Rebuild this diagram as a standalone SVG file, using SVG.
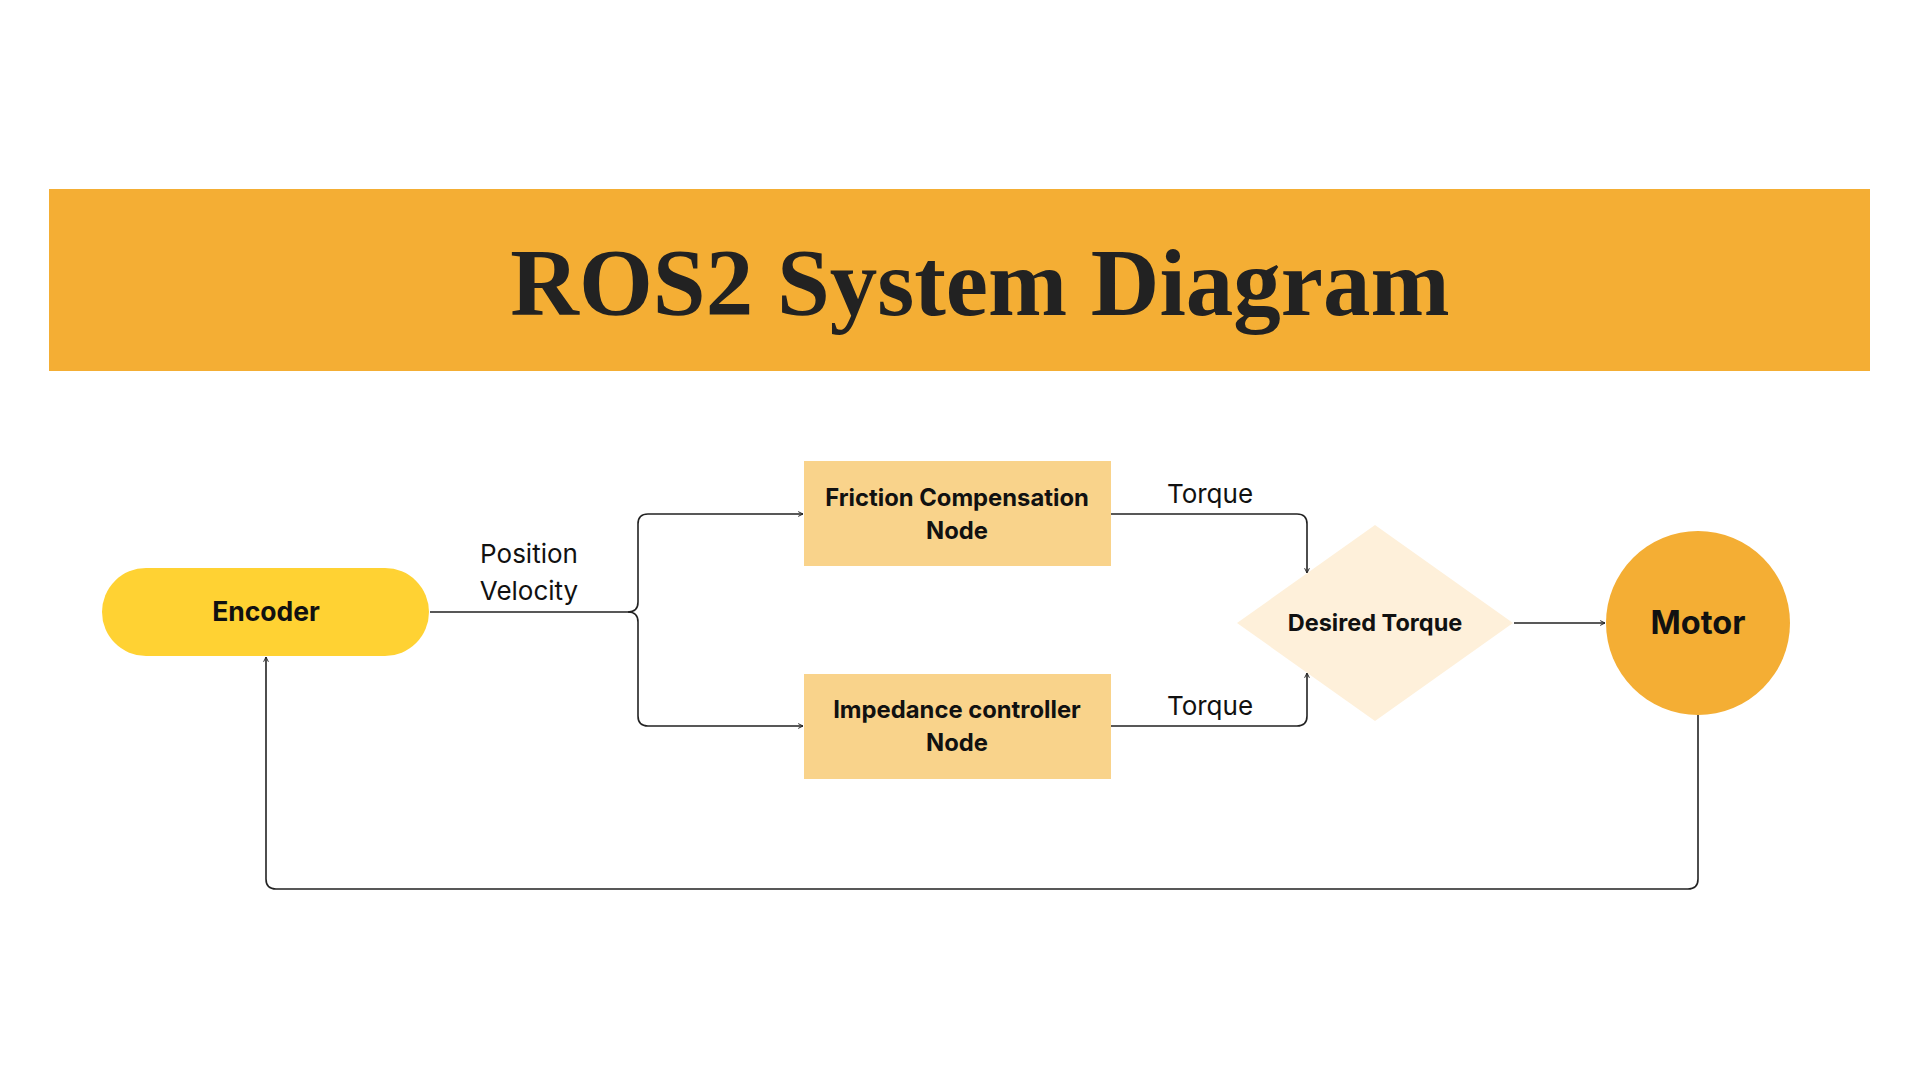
<svg xmlns="http://www.w3.org/2000/svg" width="1920" height="1080" viewBox="0 0 1920 1080">
  <style>
    .lbl { font-family: Inter, "Noto Sans", "DejaVu Sans", sans-serif; fill: #111; text-anchor: middle; }
    .b { font-weight: 700; }
    .r { font-weight: 400; font-size: 26px; }
    .conn { fill: none; stroke: #222; stroke-width: 1.6; }
  </style>
  <defs>
    <marker id="arr" viewBox="0 0 10 10" refX="9" refY="5" markerWidth="6" markerHeight="6" orient="auto" markerUnits="userSpaceOnUse">
      <path d="M1,1 L9,5 L1,9" fill="none" stroke="#222" stroke-width="1.6"/>
    </marker>
  </defs>
  <rect width="1920" height="1080" fill="#ffffff"/>

  <g id="title">
    <rect x="49" y="189" width="1821" height="182" fill="#F4AE34"/>
    <text x="980" y="315" font-family="'Liberation Serif', 'DejaVu Serif', serif" font-weight="700" font-size="95" fill="#222" text-anchor="middle">ROS2 System Diagram</text>
  </g>

  <g id="connectors">
    <path class="conn" d="M430,612 H628 Q638,612 638,602 V524 Q638,514 648,514 H803" marker-end="url(#arr)"/>
    <path class="conn" d="M628,612 Q638,612 638,622 V716 Q638,726 648,726 H803" marker-end="url(#arr)"/>
    <path class="conn" d="M1111,514 H1297 Q1307,514 1307,524 V573" marker-end="url(#arr)"/>
    <path class="conn" d="M1111,726 H1297 Q1307,726 1307,716 V673" marker-end="url(#arr)"/>
    <path class="conn" d="M1514,623 H1605" marker-end="url(#arr)"/>
    <path class="conn" d="M1698,715 V879 Q1698,889 1688,889 H276 Q266,889 266,879 V657" marker-end="url(#arr)"/>
    <text class="lbl r" x="529" y="563">Position</text>
    <text class="lbl r" x="529" y="600">Velocity</text>
    <text class="lbl r" x="1210" y="503">Torque</text>
    <text class="lbl r" x="1210" y="715">Torque</text>
  </g>

  <g id="encoder">
    <rect x="102" y="568" width="327" height="88" rx="44" fill="#FFD233"/>
    <text class="lbl b" x="266" y="621" font-size="26.5">Encoder</text>
  </g>

  <g id="friction">
    <rect x="804" y="461" width="307" height="105" fill="#F9D38B"/>
    <text class="lbl b" x="957" y="506" font-size="23.8">Friction Compensation</text>
    <text class="lbl b" x="957" y="539" font-size="23.8">Node</text>
  </g>

  <g id="impedance">
    <rect x="804" y="674" width="307" height="105" fill="#F9D38B"/>
    <text class="lbl b" x="957" y="718" font-size="23.8">Impedance controller</text>
    <text class="lbl b" x="957" y="751" font-size="23.8">Node</text>
  </g>

  <g id="desired">
    <polygon points="1375,525 1513,623 1375,721 1237,623" fill="#FEF0DA"/>
    <text class="lbl b" x="1375" y="631" font-size="23.5">Desired Torque</text>
  </g>

  <g id="motor">
    <circle cx="1698" cy="623" r="92" fill="#F4AE34"/>
    <text class="lbl b" x="1698" y="634" font-size="32.5">Motor</text>
  </g>
</svg>
